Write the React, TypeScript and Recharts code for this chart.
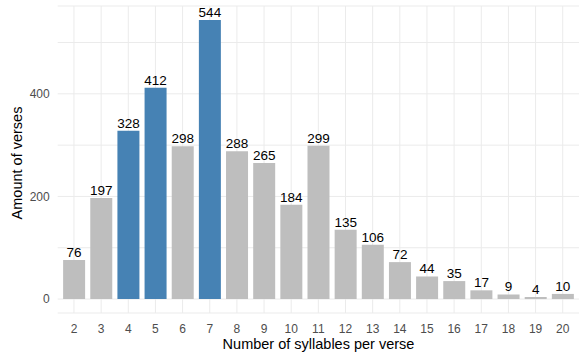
import { BarChart, Bar, XAxis, YAxis, CartesianGrid, LabelList, Cell } from 'recharts';

const syllables = ['2', '3', '4', '5', '6', '7', '8', '9', '10', '11', '12', '13', '14', '15', '16', '17', '18', '19', '20'];
const verses = [76, 197, 328, 412, 298, 544, 288, 265, 184, 299, 135, 106, 72, 44, 35, 17, 9, 4, 10];
const highlighted = ['4', '5', '7'];
const yTicks = [0, 100, 200, 300, 400, 500];
const yLabelTicks = [0, 200, 400];

const data = syllables.map((s, i) => ({ syllables: s, verses: verses[i] }));

const font = 'Arial, "Liberation Sans", sans-serif';
const xPad = 2.7;

// vertical grid lines at the centre of each category band (ggplot style)
const centreLines = ({ xAxis, offset }: any) => {
  const scale = xAxis?.scale;
  if (typeof scale === 'function' && typeof scale.bandwidth === 'function') {
    return syllables.map((s) => scale(s) + scale.bandwidth() / 2);
  }
  const left = (offset?.left ?? 0) + xPad;
  const w = (offset?.width ?? 0) - 2 * xPad;
  const bw = w / syllables.length;
  return syllables.map((_, i) => left + (i + 0.5) * bw);
};

export default function App() {
  const maxVal = Math.max(...verses);
  const pad = maxVal * 0.05;

  return (
    <div style={{ position: 'absolute', left: 0, top: 0, width: 585, height: 361, background: '#fff', fontFamily: font }}>
      <BarChart
        width={585}
        height={361}
        data={data}
        margin={{ top: 6, right: 6, bottom: 0, left: 0 }}
        barCategoryGap="10%"
      >
        <CartesianGrid stroke="#EBEBEB" strokeWidth={1} verticalCoordinatesGenerator={centreLines} />
        <XAxis
          dataKey="syllables"
          height={48}
          axisLine={false}
          tickLine={false}
          tickSize={0}
          tickMargin={11}
          padding={{ left: xPad, right: xPad }}
          tick={{ fontSize: 12, fill: '#4D4D4D', fontFamily: font }}
          interval={0}
        />
        <YAxis
          type="number"
          domain={[-pad, maxVal + pad]}
          ticks={yTicks}
          width={57.7}
          axisLine={false}
          tickLine={false}
          tickSize={0}
          tickMargin={8}
          tick={{ fontSize: 12, fill: '#4D4D4D', fontFamily: font }}
          tickFormatter={(v: number) => (yLabelTicks.includes(v) ? String(v) : '')}
        />
        <Bar dataKey="verses" isAnimationActive={false}>
          {data.map((d) => (
            <Cell key={d.syllables} fill={highlighted.includes(d.syllables) ? '#4682B4' : '#BEBEBE'} />
          ))}
          <LabelList
            dataKey="verses"
            position="top"
            offset={3}
            style={{ fontSize: 13.5, fill: '#000', fontFamily: font }}
          />
        </Bar>
      </BarChart>
      <div
        style={{
          position: 'absolute',
          left: 0,
          width: 637,
          top: 336,
          textAlign: 'center',
          fontSize: 14.5,
          color: '#000',
          lineHeight: '17px',
        }}
      >
        Number of syllables per verse
      </div>
      <div
        style={{
          position: 'absolute',
          left: 17,
          top: 163,
          transform: 'translate(-50%, -50%) rotate(-90deg)',
          whiteSpace: 'nowrap',
          fontSize: 14.5,
          color: '#000',
          lineHeight: '17px',
        }}
      >
        Amount of verses
      </div>
    </div>
  );
}
